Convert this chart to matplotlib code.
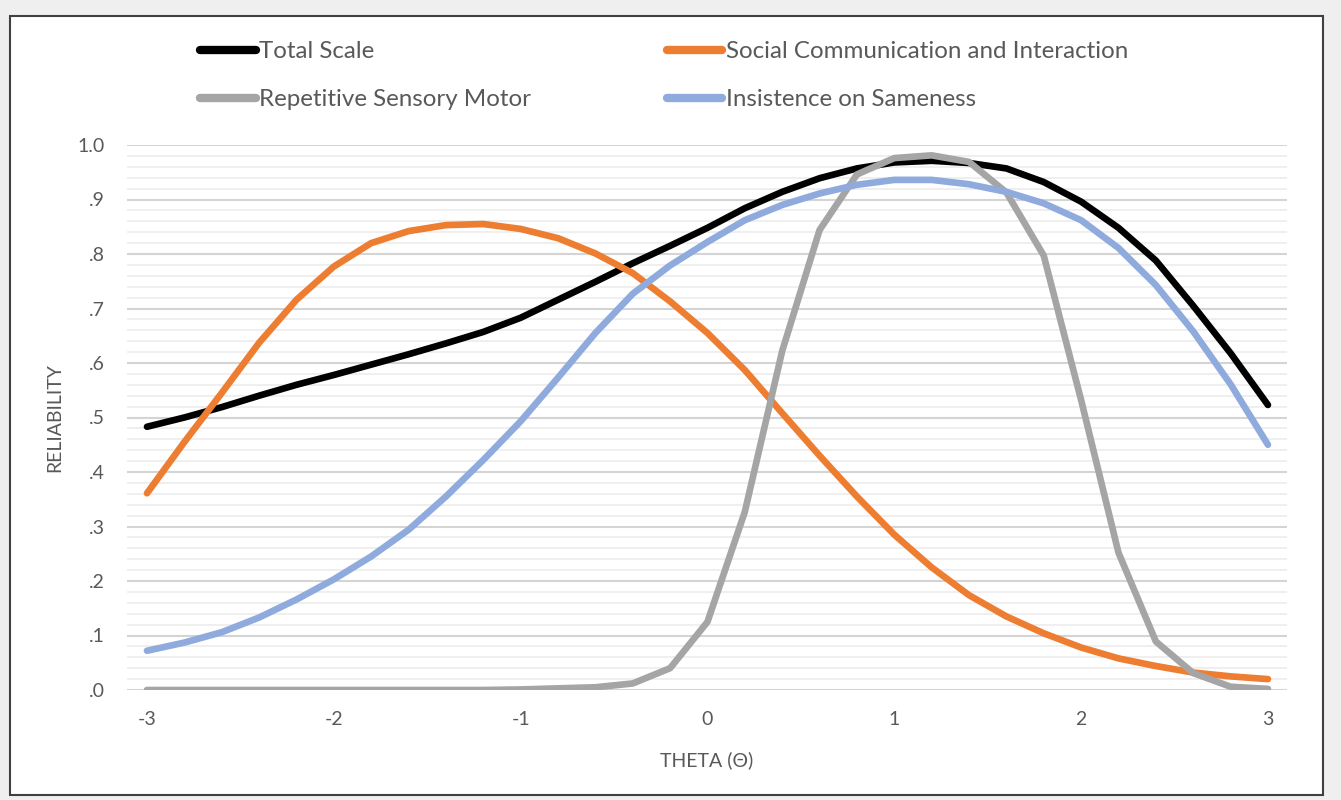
import numpy as np
import matplotlib
matplotlib.use("Agg")
import matplotlib.pyplot as plt
from matplotlib.patches import Rectangle

theta = [-3.0, -2.8, -2.6, -2.4, -2.2, -2.0, -1.8, -1.6, -1.4, -1.2, -1.0,
         -0.8, -0.6, -0.4, -0.2, 0.0, 0.2, 0.4, 0.6, 0.8, 1.0,
         1.2, 1.4, 1.6, 1.8, 2.0, 2.2, 2.4, 2.6, 2.8, 3.0]

total_scale = [0.483, 0.500, 0.519, 0.540, 0.560, 0.578, 0.597, 0.616, 0.636, 0.657, 0.683,
               0.716, 0.749, 0.783, 0.815, 0.848, 0.884, 0.914, 0.939, 0.957, 0.968,
               0.971, 0.967, 0.957, 0.932, 0.896, 0.848, 0.788, 0.705, 0.618, 0.523]

social_comm = [0.361, 0.455, 0.545, 0.637, 0.716, 0.777, 0.820, 0.842, 0.853, 0.855, 0.846,
               0.829, 0.801, 0.765, 0.713, 0.655, 0.587, 0.508, 0.430, 0.355, 0.285,
               0.225, 0.174, 0.135, 0.104, 0.078, 0.058, 0.044, 0.032, 0.025, 0.020]

repetitive = [0.0, 0.0, 0.0, 0.0, 0.0, 0.0, 0.0, 0.0, 0.0, 0.0, 0.001,
              0.003, 0.005, 0.012, 0.040, 0.125, 0.327, 0.622, 0.844, 0.946, 0.976,
              0.981, 0.969, 0.913, 0.797, 0.532, 0.252, 0.089, 0.031, 0.006, 0.002]

sameness = [0.072, 0.087, 0.106, 0.133, 0.166, 0.203, 0.245, 0.294, 0.355, 0.422, 0.493,
            0.573, 0.655, 0.727, 0.779, 0.822, 0.862, 0.890, 0.911, 0.927, 0.936,
            0.936, 0.928, 0.914, 0.893, 0.862, 0.811, 0.743, 0.658, 0.561, 0.450]

series = [
    ("Total Scale", total_scale, "#000000"),
    ("Social Communication and Interaction", social_comm, "#ED7D31"),
    ("Repetitive Sensory Motor", repetitive, "#A5A5A5"),
    ("Insistence on Sameness", sameness, "#8FAADC"),
]

yticks = [0.0, 0.1, 0.2, 0.3, 0.4, 0.5, 0.6, 0.7, 0.8, 0.9, 1.0]
ytick_labels = [".0", ".1", ".2", ".3", ".4", ".5", ".6", ".7", ".8", ".9", "1.0"]
xticks = [-3, -2, -1, 0, 1, 2, 3]
xtick_labels = ["-3", "-2", "-1", "0", "1", "2", "3"]

plt.rcParams['font.family'] = ['Lato', 'DejaVu Sans']
W, H = 1341, 800
fig = plt.figure(figsize=(W / 100, H / 100), dpi=100)
fig.patch.set_facecolor("#efefef")

bg = fig.add_axes([0, 0, 1, 1], zorder=-5)
bg.set_xlim(0, W)
bg.set_ylim(H, 0)
bg.axis("off")
bg.add_patch(Rectangle((10, 16), 1313, 779, facecolor="white",
                       edgecolor="#404040", linewidth=1.5))

ax = fig.add_axes([127 / W, 1 - 690 / H, 1160 / W, 545 / H], zorder=1)
ax.set_facecolor("none")
ax.set_xlim(-3.107, 3.102)
ax.set_ylim(0, 1.0)

for y in np.arange(0.02, 1.0, 0.02):
    if abs(y * 10 - round(y * 10)) > 1e-6:
        ax.axhline(y, color="#ececec", linewidth=1.2, zorder=1)
for y in yticks:
    ax.axhline(y, color="#d4d4d4", linewidth=1.5, zorder=1)

handles = {}
for name, vals, col in series:
    ln, = ax.plot(theta, vals, color=col, linewidth=4.8, solid_capstyle="round",
                  solid_joinstyle="round", zorder=3, label=name)
    handles[name] = ln

for s in ax.spines.values():
    s.set_visible(False)
ax.set_yticks(yticks)
ax.set_yticklabels(ytick_labels)
ax.set_xticks(xticks)
ax.set_xticklabels(xtick_labels)
ax.tick_params(axis="both", length=0, labelsize=14, colors="#595959")
ax.tick_params(axis="y", pad=16)
ax.tick_params(axis="x", pad=15)

fig.text(707 / W, 1 - 760 / H, "THETA (Θ)", ha="center", va="center",
         fontsize=14, color="#595959")
fig.text(55 / W, 1 - 418 / H, "RELIABILITY", ha="center", va="center",
         rotation=90, fontsize=14, color="#595959")

order = ["Total Scale", "Repetitive Sensory Motor",
         "Social Communication and Interaction", "Insistence on Sameness"]
leg = fig.legend(handles=[handles[k] for k in order], labels=order,
                 loc="upper left", ncol=2,
                 bbox_to_anchor=(200 / W, 1 - 41 / H), frameon=False,
                 fontsize=17.4, handlelength=2.3, handletextpad=0.15,
                 columnspacing=5.6, labelspacing=1.12, borderpad=0, borderaxespad=0)
for t in leg.get_texts():
    t.set_color("#595959")
for l in leg.get_lines():
    l.set_linewidth(6)

fig.savefig("out.png", dpi=100, facecolor=fig.get_facecolor())
